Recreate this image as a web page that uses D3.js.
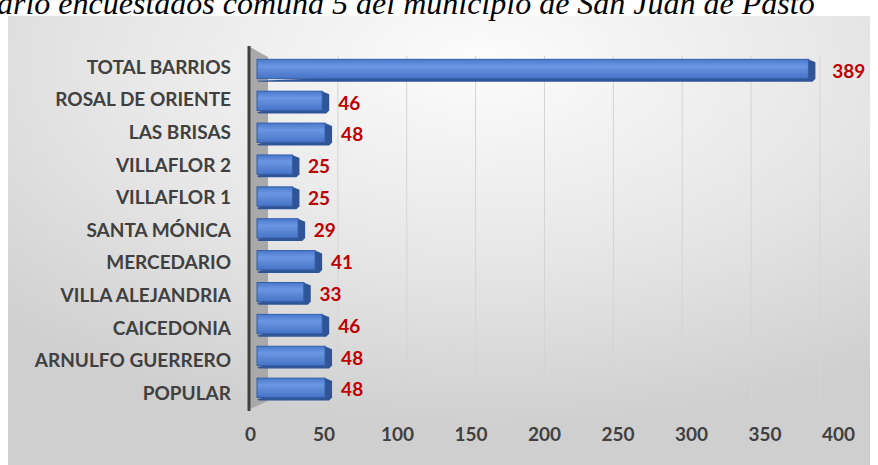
<!DOCTYPE html>
<html>
<head>
<meta charset="utf-8">
<script src="https://cdn.jsdelivr.net/npm/d3@7"></script>
<style>
body { margin: 0; background: #fff; }
</style>
</head>
<body>
<svg width="878" height="465"></svg>

<script>

var title = "ario encuestados comuna 5 del municipio de San Juan de Pasto";

var barrios = ["TOTAL BARRIOS", "ROSAL DE ORIENTE", "LAS BRISAS", "VILLAFLOR 2", "VILLAFLOR 1",
    "SANTA MÓNICA", "MERCEDARIO", "VILLA ALEJANDRIA", "CAICEDONIA", "ARNULFO GUERRERO", "POPULAR"];

var encuestados = [389, 46, 48, 25, 25, 29, 41, 33, 46, 48, 48];

var ticks = [0, 50, 100, 150, 200, 250, 300, 350, 400];

var data = barrios.map(function(b, i) { return {barrio: b, value: encuestados[i]}; });

var svg = d3.select("svg");

// background gradient of the chart area
var defs = svg.append("defs");

var bg = defs.append("radialGradient")
    .attr("id", "bg")
    .attr("cx", "55%").attr("cy", "10%").attr("r", "80%");
bg.append("stop").attr("offset", "0%").attr("stop-color", "#fcfcfc");
bg.append("stop").attr("offset", "55%").attr("stop-color", "#e6e6e6");
bg.append("stop").attr("offset", "100%").attr("stop-color", "#cfcfcf");

var face = defs.append("linearGradient")
    .attr("id", "face")
    .attr("x1", 0).attr("y1", 0).attr("x2", 0).attr("y2", 1);
face.append("stop").attr("offset", "0%").attr("stop-color", "#4a78cc");
face.append("stop").attr("offset", "35%").attr("stop-color", "#6b96e2");
face.append("stop").attr("offset", "100%").attr("stop-color", "#4673c6");

svg.append("rect")
    .attr("x", 8).attr("y", 16)
    .attr("width", 862).attr("height", 460)
    .attr("fill", "url(#bg)");

// title, cropped at the top like the source image
svg.append("text")
    .attr("x", -3).attr("y", 14)
    .attr("font-family", "Liberation Serif, serif")
    .attr("font-style", "italic")
    .attr("font-size", 32)
    .attr("fill", "#000")
    .text(title);

// three planes of the 3D chart: back wall (grid), bars, front (axis labels)
var xBack = d3.scaleLinear().domain([0, 400]).range([269, 820]);
var xBar = d3.scaleLinear().domain([0, 400]).range([257, 824]);
var xFront = d3.scaleLinear().domain([0, 400]).range([250, 838]);
var xLabel = d3.scaleLinear().domain([0, 400]).range([272, 848]);

var y = d3.scaleBand().domain(barrios).range([48.8, 410]).padding(0.33);
var yLabel = d3.scaleBand().domain(barrios).range([45.8, 415.7]).padding(0.33);

// gridlines with their floor part
svg.append("g")
  .selectAll("path")
  .data(ticks.slice(1))
  .enter().append("path")
    .attr("fill", "none")
    .attr("stroke", "#d4d4d4")
    .attr("stroke-width", 1)
    .attr("d", function(d) {
      return "M" + xBack(d) + ",56V400L" + xFront(d) + ",411";
    });

// side wall
svg.append("path")
    .attr("fill", "#a9a9a9")
    .attr("d", "M250,47L268,57V401L250,409Z");

svg.append("line")
    .attr("x1", 249).attr("x2", 249)
    .attr("y1", 46).attr("y2", 411)
    .attr("stroke", "#404040")
    .attr("stroke-width", 3);

// bars
var bars = svg.append("g")
  .selectAll("g")
  .data(data)
  .enter().append("g");

var depth = 7;

bars.append("path")
    .attr("fill", "#2f5597")
    .attr("d", function(d) {
      var x1 = xBar(d.value), y0 = y(d.barrio), h = y.bandwidth();
      return "M" + x1 + "," + y0 + "L" + (x1 + depth) + "," + (y0 + 3) +
          "V" + (y0 + h - 2) + "L" + (x1 + depth - 3) + "," + (y0 + h + 1) +
          "H" + (xBar(0) + 2) + "L" + xBar(0) + "," + (y0 + h) + "Z";
    });

bars.append("rect")
    .attr("x", xBar(0))
    .attr("y", function(d) { return y(d.barrio); })
    .attr("width", function(d) { return xBar(d.value) - xBar(0); })
    .attr("height", y.bandwidth() - 2)
    .attr("fill", "url(#face)")
    .attr("stroke", "#345ea8")
    .attr("stroke-width", 1);

bars.append("text")
    .attr("x", function(d) { return xLabel(d.value); })
    .attr("y", function(d) { return y(d.barrio) + y.bandwidth() / 2 + 1; })
    .attr("dy", "0.35em")
    .attr("font-family", "Lato, sans-serif")
    .attr("font-weight", "bold")
    .attr("font-size", 19)
    .attr("fill", "#c00000")
    .text(function(d) { return d.value; });

// axes
var yAxis = svg.append("g")
    .attr("transform", "translate(231,0)")
    .call(d3.axisLeft(yLabel).tickSize(0).tickPadding(0));

var xAxis = svg.append("g")
    .attr("transform", "translate(0,427)")
    .call(d3.axisBottom(xFront).tickValues(ticks).tickSize(0).tickPadding(0));

svg.selectAll(".domain").remove();

svg.selectAll(".tick text")
    .attr("font-family", "Lato, sans-serif")
    .attr("font-weight", "bold")
    .attr("font-size", 19)
    .attr("fill", "#404040");

</script>
</body>
</html>
